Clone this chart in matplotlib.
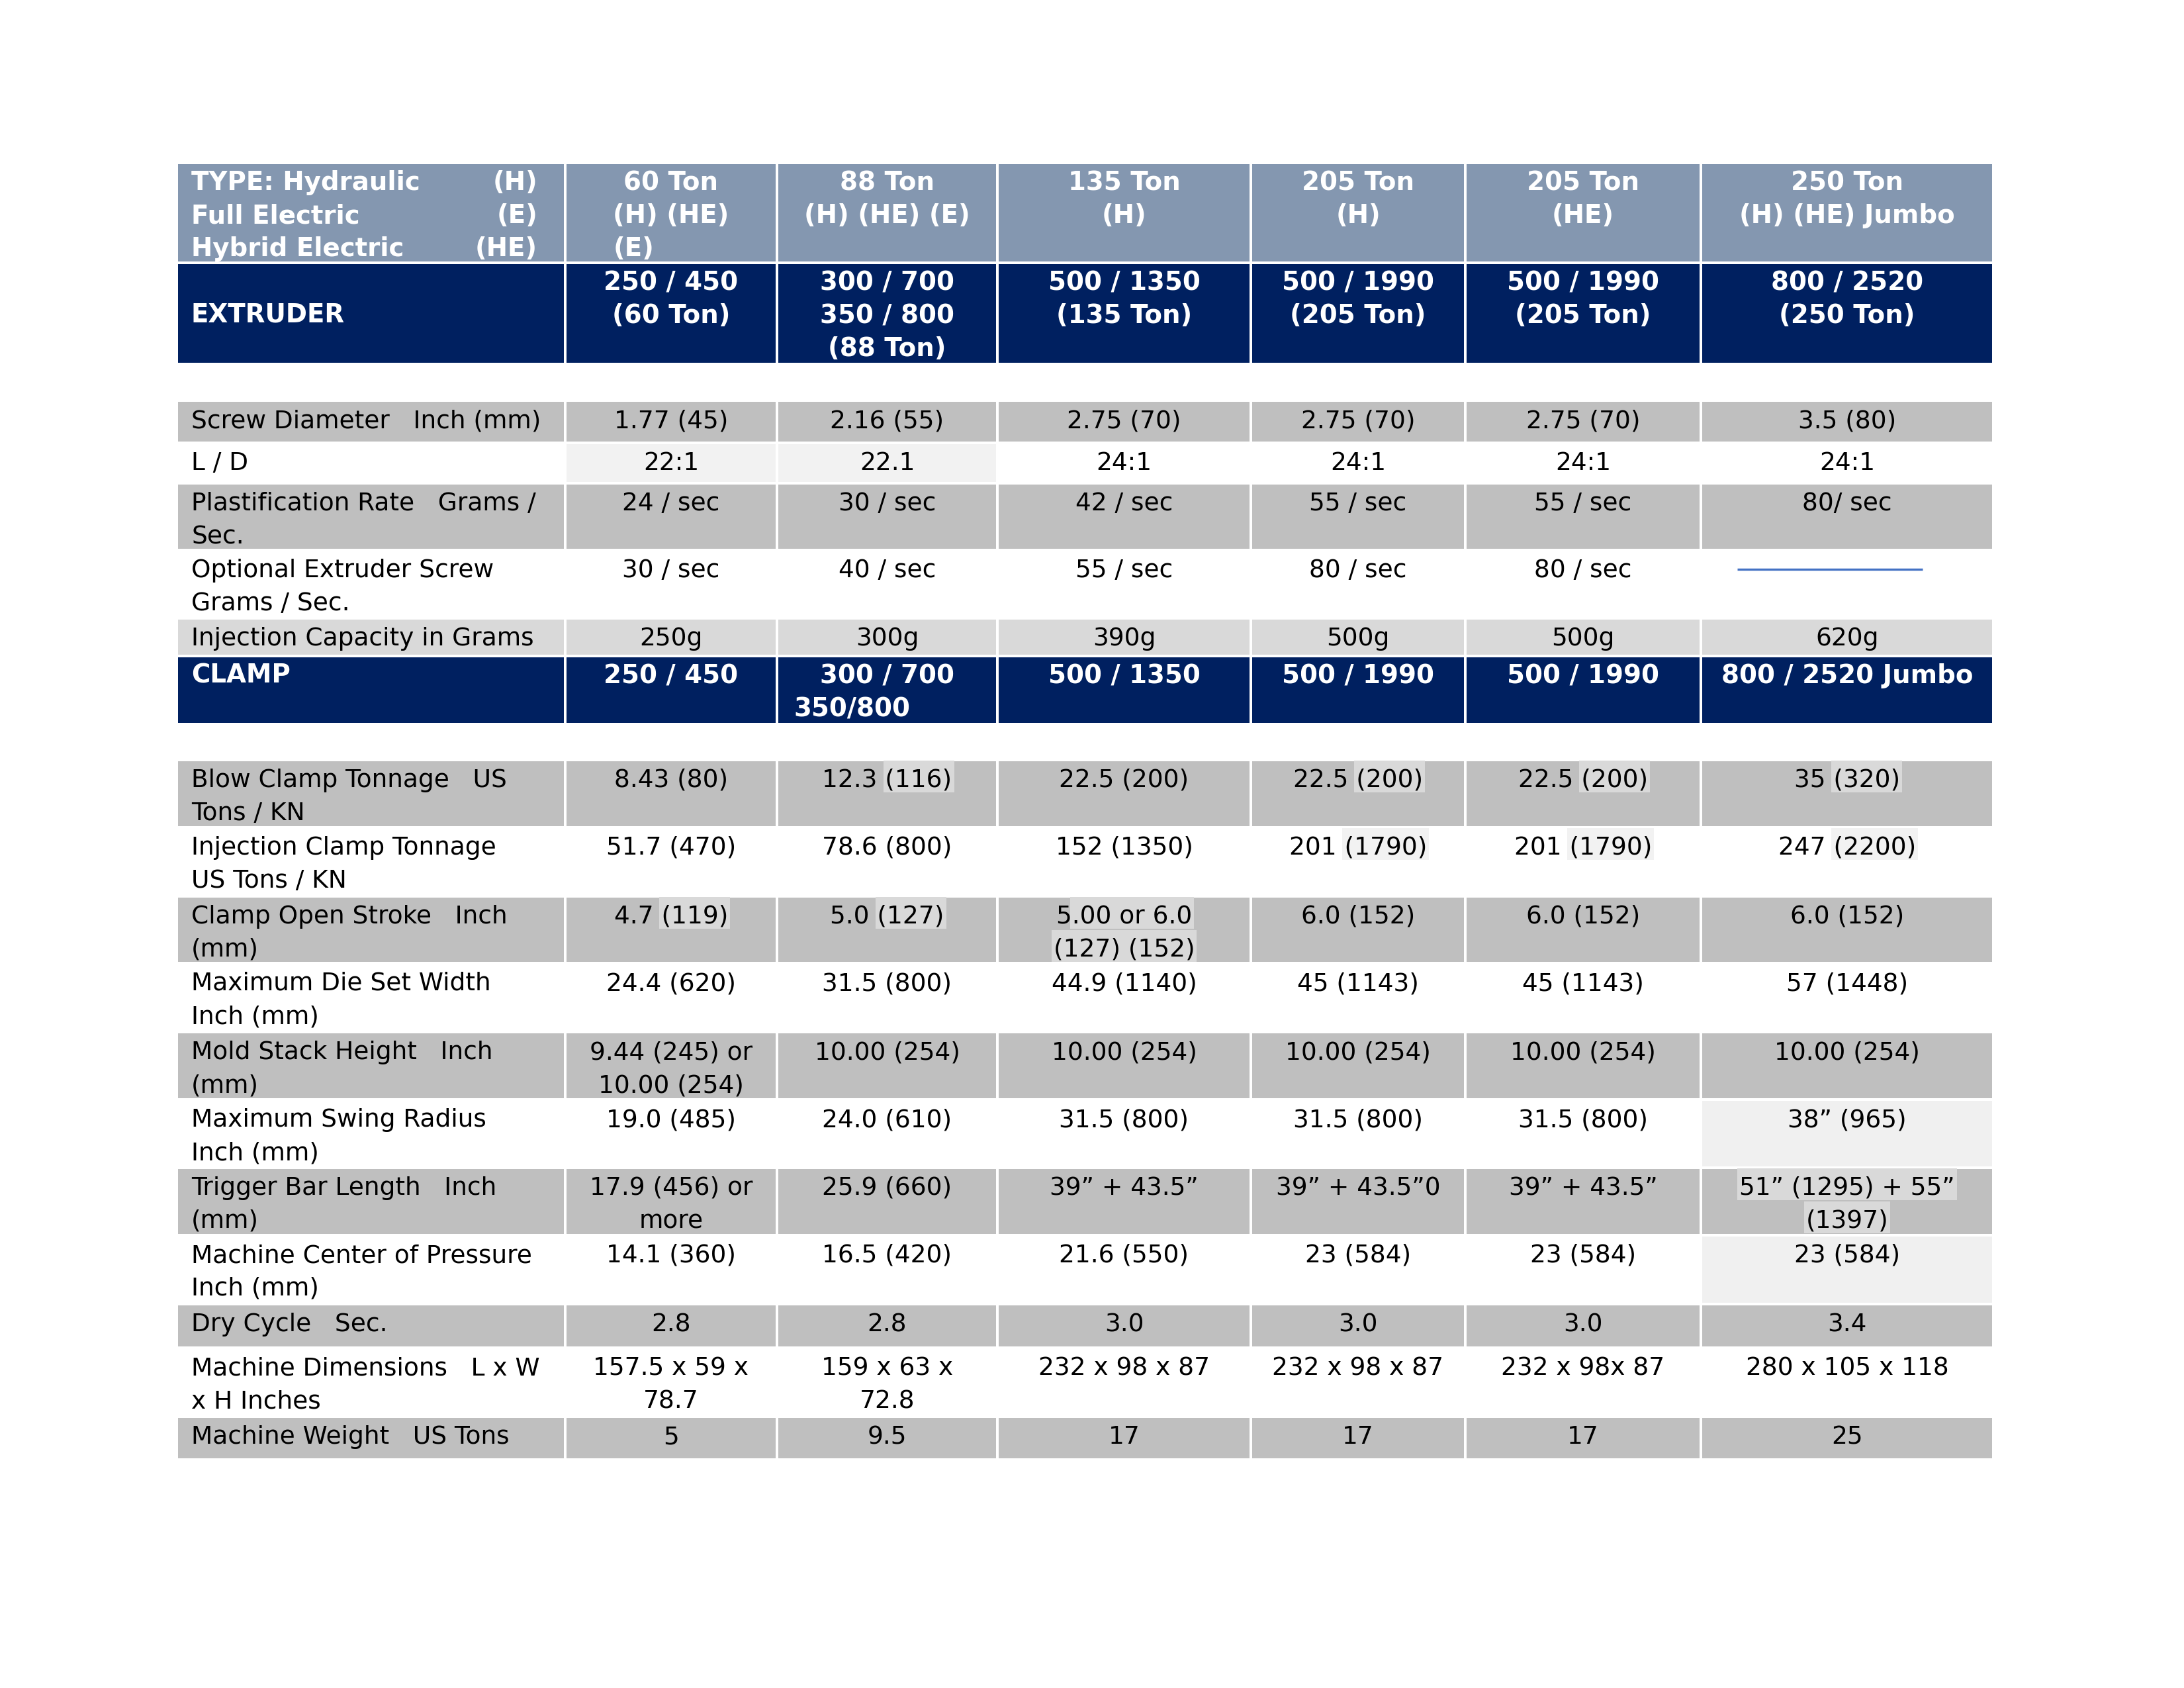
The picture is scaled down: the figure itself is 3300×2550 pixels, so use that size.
import matplotlib
matplotlib.use("Agg")
import matplotlib.pyplot as plt
from matplotlib.patches import Rectangle

plt.rcParams['font.family'] = ['DejaVu Sans']

# ---------------- data ----------------
type_labels = ["TYPE: Hydraulic", "Full Electric", "Hybrid Electric"]
type_codes = ["(H)", "(E)", "(HE)"]
machine_headers = ["60 Ton\n(H) (HE)\n(E)", "88 Ton\n(H) (HE) (E)", "135 Ton\n(H)",
                   "205 Ton\n(H)", "205 Ton\n(HE)", "250 Ton\n(H) (HE) Jumbo"]

extruder_label = "EXTRUDER"
extruder_models = ["250 / 450\n(60 Ton)", "300 / 700\n350 / 800\n(88 Ton)", "500 / 1350\n(135 Ton)",
                   "500 / 1990\n(205 Ton)", "500 / 1990\n(205 Ton)", "800 / 2520\n(250 Ton)"]

screw_diameter = ["1.77 (45)", "2.16 (55)", "2.75 (70)", "2.75 (70)", "2.75 (70)", "3.5 (80)"]
l_over_d = ["22:1", "22.1", "24:1", "24:1", "24:1", "24:1"]
plastification_rate = ["24 / sec", "30 / sec", "42 / sec", "55 / sec", "55 / sec", "80/ sec"]
optional_screw_rate = ["30 / sec", "40 / sec", "55 / sec", "80 / sec", "80 / sec", None]
injection_capacity = ["250g", "300g", "390g", "500g", "500g", "620g"]

clamp_label = "CLAMP"
clamp_models = ["250 / 450", "300 / 700\n350/800", "500 / 1350", "500 / 1990", "500 / 1990",
                "800 / 2520 Jumbo"]

blow_clamp = ["8.43 (80)", "12.3 (116)", "22.5 (200)", "22.5 (200)", "22.5 (200)", "35 (320)"]
injection_clamp = ["51.7 (470)", "78.6 (800)", "152 (1350)", "201 (1790)", "201 (1790)", "247 (2200)"]
clamp_stroke = ["4.7 (119)", "5.0 (127)", "5.00 or 6.0\n(127) (152)", "6.0 (152)", "6.0 (152)", "6.0 (152)"]
die_width = ["24.4 (620)", "31.5 (800)", "44.9 (1140)", "45 (1143)", "45 (1143)", "57 (1448)"]
mold_stack = ["9.44 (245) or\n10.00 (254)", "10.00 (254)", "10.00 (254)", "10.00 (254)",
              "10.00 (254)", "10.00 (254)"]
swing_radius = ["19.0 (485)", "24.0 (610)", "31.5 (800)", "31.5 (800)", "31.5 (800)", "38\u201d (965)"]
trigger_bar = ["17.9 (456) or\nmore", "25.9 (660)", "39\u201d + 43.5\u201d", "39\u201d + 43.5\u201d0",
               "39\u201d + 43.5\u201d", "51\u201d (1295) + 55\u201d\n(1397)"]
center_pressure = ["14.1 (360)", "16.5 (420)", "21.6 (550)", "23 (584)", "23 (584)", "23 (584)"]
dry_cycle = ["2.8", "2.8", "3.0", "3.0", "3.0", "3.4"]
dimensions = ["157.5 x 59 x\n78.7", "159 x 63 x\n72.8", "232 x 98 x 87", "232 x 98 x 87",
              "232 x 98x 87", "280 x 105 x 118"]
weight = ["5", "9.5", "17", "17", "17", "25"]

spec_labels = {
    "screw": "Screw Diameter   Inch (mm)",
    "ld": "L / D",
    "plast": "Plastification Rate   Grams /\nSec.",
    "optional": "Optional Extruder Screw\nGrams / Sec.",
    "injcap": "Injection Capacity in Grams",
    "blow": "Blow Clamp Tonnage   US\nTons / KN",
    "injclamp": "Injection Clamp Tonnage\nUS Tons / KN",
    "stroke": "Clamp Open Stroke   Inch\n(mm)",
    "die": "Maximum Die Set Width\nInch (mm)",
    "mold": "Mold Stack Height   Inch\n(mm)",
    "swing": "Maximum Swing Radius\nInch (mm)",
    "trigger": "Trigger Bar Length   Inch\n(mm)",
    "center": "Machine Center of Pressure\nInch (mm)",
    "dry": "Dry Cycle   Sec.",
    "dims": "Machine Dimensions   L x W\nx H Inches",
    "weight": "Machine Weight   US Tons",
}

# ---------------- layout / style ----------------
W, H = 3300, 2550
col_edges = [267, 854, 1174, 1507, 1890, 2214, 2570, 3012]

C_HEAD = "#8497b0"
C_NAVY = "#002060"
C_GRAY = "#bfbfbf"
C_LGRAY = "#d9d9d9"
C_XLGRAY = "#f2f2f2"
C_WHITE = "#ffffff"

# key, top, bottom, style, label, values
rows = [
    ("header", 246, 397, "head", None, machine_headers),
    ("extruder", 397, 550, "navy", extruder_label, extruder_models),
    ("screw", 605, 669, "gray", spec_labels["screw"], screw_diameter),
    ("ld", 669, 730, "white", spec_labels["ld"], l_over_d),
    ("plast", 730, 831, "gray", spec_labels["plast"], plastification_rate),
    ("optional", 831, 934, "white", spec_labels["optional"], optional_screw_rate),
    ("injcap", 934, 991, "lgray", spec_labels["injcap"], injection_capacity),
    ("clamp", 991, 1094, "navy", clamp_label, clamp_models),
    ("blow", 1148, 1250, "gray", spec_labels["blow"], blow_clamp),
    ("injclamp", 1250, 1354, "white", spec_labels["injclamp"], injection_clamp),
    ("stroke", 1354, 1455, "gray", spec_labels["stroke"], clamp_stroke),
    ("die", 1455, 1559, "white", spec_labels["die"], die_width),
    ("mold", 1559, 1661, "gray", spec_labels["mold"], mold_stack),
    ("swing", 1661, 1764, "white", spec_labels["swing"], swing_radius),
    ("trigger", 1764, 1866, "gray", spec_labels["trigger"], trigger_bar),
    ("center", 1866, 1970, "white", spec_labels["center"], center_pressure),
    ("dry", 1970, 2036, "gray", spec_labels["dry"], dry_cycle),
    ("dims", 2036, 2140, "white", spec_labels["dims"], dimensions),
    ("weight", 2140, 2205, "gray", spec_labels["weight"], weight),
]

style_bg = {"head": C_HEAD, "navy": C_NAVY, "gray": C_GRAY, "white": C_WHITE, "lgray": C_LGRAY}

cell_bg_override = {("ld", 0): C_XLGRAY, ("ld", 1): C_XLGRAY,
                    ("swing", 5): "#f0f0f0", ("center", 5): "#f0f0f0"}

# (row, col, line, suffix, color)
text_highlights = [
    ("blow", 1, 0, "(116)", C_LGRAY), ("blow", 3, 0, "(200)", C_LGRAY),
    ("blow", 4, 0, "(200)", C_LGRAY), ("blow", 5, 0, "(320)", C_LGRAY),
    ("injclamp", 3, 0, "(1790)", C_XLGRAY), ("injclamp", 4, 0, "(1790)", C_XLGRAY),
    ("injclamp", 5, 0, "(2200)", C_XLGRAY),
    ("stroke", 0, 0, "(119)", C_LGRAY), ("stroke", 1, 0, "(127)", C_LGRAY),
    ("stroke", 2, 0, ".00 or 6.0", C_LGRAY), ("stroke", 2, 1, "(127) (152)", C_LGRAY),
    ("trigger", 5, 0, "51\u201d (1295) + 55\u201d", C_LGRAY), ("trigger", 5, 1, "(1397)", C_LGRAY),
]

FS = 9.0      # normal text
FSB = 9.3     # bold text
LINE = 50     # px line step
BASE = 41     # first baseline offset from cell top
PADL = 22
GAP = 1.6     # half width of white grid lines

fig = plt.figure(figsize=(W / 300, H / 300), dpi=300)
ax = fig.add_axes([0, 0, 1, 1])
ax.set_xlim(0, W)
ax.set_ylim(H, 0)
ax.axis("off")
renderer = fig.canvas.get_renderer()


def text_width(s, size, weight):
    t = ax.text(0, 0, s, fontsize=size, fontweight=weight)
    w = t.get_window_extent(renderer).width
    t.remove()
    return w


for key, top, bot, style, label, values in rows:
    bold = style in ("head", "navy")
    fs = FSB if bold else FS
    fw = "bold" if bold else "normal"
    tc = "white" if bold else "black"
    # cells
    for c in range(7):
        x0, x1 = col_edges[c], col_edges[c + 1]
        bg = style_bg[style]
        if c > 0 and (key, c - 1) in cell_bg_override:
            bg = cell_bg_override[(key, c - 1)]
        ax.add_patch(Rectangle((x0 + GAP, top + GAP), x1 - x0 - 2 * GAP, bot - top - 2 * GAP,
                               facecolor=bg, edgecolor="none", zorder=1))
    # label column
    lx = col_edges[0] + PADL
    if key == "header":
        for i, (a, b) in enumerate(zip(type_labels, type_codes)):
            y = top + BASE + LINE * i
            ax.text(lx, y, a, fontsize=fs, fontweight=fw, color=tc, ha="left", va="baseline", zorder=3)
            ax.text(col_edges[1] - 42, y, b, fontsize=fs, fontweight=fw, color=tc, ha="right",
                    va="baseline", zorder=3)
    elif key == "extruder":
        ax.text(lx, (top + bot) / 2 + 13, label, fontsize=fs, fontweight=fw, color=tc,
                ha="left", va="baseline", zorder=3)
    else:
        for i, line in enumerate(label.split("\n")):
            ax.text(lx, top + BASE + LINE * i, line, fontsize=fs, fontweight=fw, color=tc,
                    ha="left", va="baseline", zorder=3)
    # value columns
    for c, val in enumerate(values):
        x0, x1 = col_edges[c + 1], col_edges[c + 2]
        cx = (x0 + x1) / 2
        if val is None:
            ax.plot([cx - 166, cx + 114], [top + 29, top + 29], color="#4472c4", lw=0.8, zorder=3,
                    solid_capstyle="butt")
            continue
        lines = val.split("\n")
        widths = [text_width(l, fs, fw) for l in lines]
        for i, line in enumerate(lines):
            y = top + BASE + LINE * i
            if key == "header" and c == 0 and i == 2:
                ax.text(cx - widths[1] / 2, y, line, fontsize=fs, fontweight=fw, color=tc,
                        ha="left", va="baseline", zorder=3)
            elif key == "clamp" and c == 1 and i == 1:
                ax.text(x0 + 25, y, line, fontsize=fs, fontweight=fw, color=tc,
                        ha="left", va="baseline", zorder=3)
            else:
                ax.text(cx, y, line, fontsize=fs, fontweight=fw, color=tc,
                        ha="center", va="baseline", zorder=3)
        for (hk, hc, hl, suf, hcol) in text_highlights:
            if hk == key and hc == c:
                right = cx + widths[hl] / 2
                left = right - text_width(suf, fs, fw)
                yb = top + BASE + LINE * hl
                ax.add_patch(Rectangle((left - 3, yb - 40), right - left + 6, 48,
                                       facecolor=hcol, edgecolor="none", zorder=2))

fig.savefig("out.png", dpi=300, facecolor="white")
